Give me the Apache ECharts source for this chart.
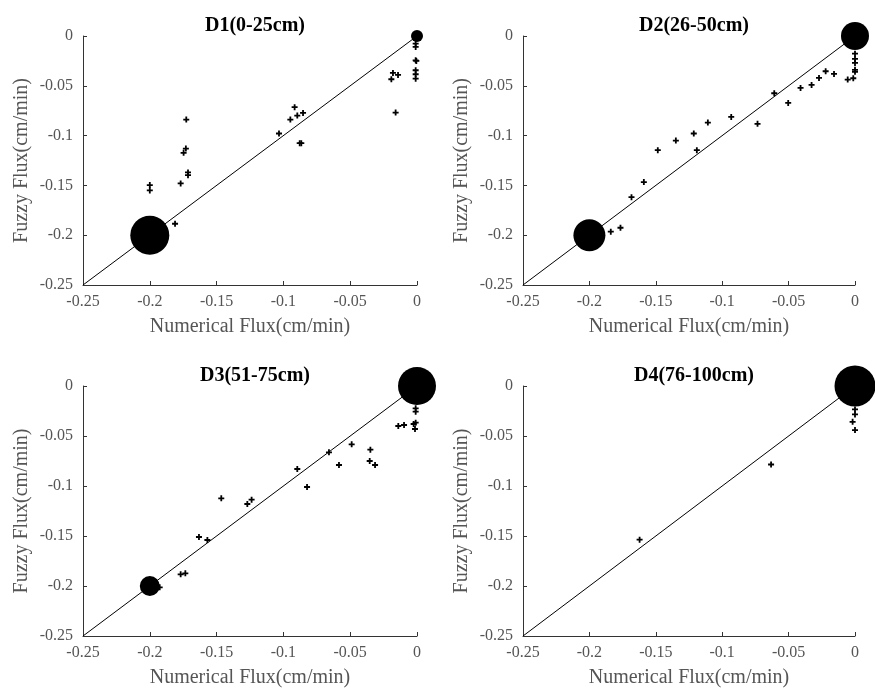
<!DOCTYPE html>
<html>
<head>
<meta charset="utf-8">
<script src="https://cdn.jsdelivr.net/npm/echarts@6/dist/echarts.min.js"></script>
<style>html,body{margin:0;padding:0;background:#fff}#c{width:875px;height:692px}</style>
</head>
<body>
<div id="c"></div>
<script>
// ---- Data ----
const panelTitles = ['D1(0-25cm)', 'D2(26-50cm)', 'D3(51-75cm)', 'D4(76-100cm)'];
const tickValues = [-0.25, -0.2, -0.15, -0.1, -0.05, 0];
const xName = 'Numerical Flux(cm/min)';
const yName = 'Fuzzy Flux(cm/min)';

// D1 small points
const d1Num = [-0.2, -0.2, -0.1727, -0.173, -0.1747, -0.1714, -0.1714, -0.1769, -0.1811, -0.1033, -0.0948, -0.0916, -0.0896, -0.0853, -0.0878, -0.0866, -0.0192, -0.018, -0.0142, -0.016, -0.001, -0.001, -0.001, -0.0005, -0.001, -0.001, -0.001];
const d1Fuzzy = [-0.1497, -0.155, -0.0839, -0.113, -0.1173, -0.137, -0.1397, -0.148, -0.1885, -0.0979, -0.0839, -0.0715, -0.0799, -0.0772, -0.1076, -0.1076, -0.0434, -0.0371, -0.0391, -0.0769, -0.0077, -0.011, -0.0244, -0.025, -0.0344, -0.0384, -0.0428];
// D1 clustered (coincident) points: x, y, count
const d1ClusterNum = [-0.2, 0];
const d1ClusterFuzzy = [-0.2, 0];
const d1ClusterCount = [39, 12];

// D2
const d2Num = [-0.1839, -0.1766, -0.1683, -0.159, -0.1485, -0.1349, -0.1214, -0.1191, -0.1108, -0.0932, -0.0734, -0.0608, -0.0503, -0.041, -0.0327, -0.0271, -0.0221, -0.0158, -0.0055, -0.0013, 0, 0, 0, 0, 0];
const d2Fuzzy = [-0.1965, -0.1925, -0.1618, -0.1467, -0.1146, -0.105, -0.0979, -0.1146, -0.0869, -0.0812, -0.0882, -0.0575, -0.0672, -0.0521, -0.0491, -0.0421, -0.0354, -0.0381, -0.0438, -0.0424, -0.0177, -0.023, -0.027, -0.034, -0.036];
const d2ClusterNum = [-0.2, 0];
const d2ClusterFuzzy = [-0.2, 0];
const d2ClusterCount = [32, 28];

// D3
const d3Num = [-0.1926, -0.1769, -0.1734, -0.1632, -0.1569, -0.1465, -0.127, -0.1238, -0.0896, -0.0823, -0.0659, -0.0584, -0.0489, -0.0349, -0.0354, -0.0314, -0.014, -0.0097, -0.0025, -0.001, -0.0015, -0.001, -0.001];
const d3Fuzzy = [-0.2013, -0.1883, -0.1873, -0.151, -0.154, -0.1123, -0.118, -0.1137, -0.083, -0.101, -0.0663, -0.079, -0.0583, -0.0637, -0.075, -0.079, -0.04, -0.039, -0.038, -0.0367, -0.043, -0.0257, -0.0223];
const d3ClusterNum = [-0.2, 0];
const d3ClusterFuzzy = [-0.2, 0];
const d3ClusterCount = [20, 38];

// D4
const d4Num = [-0.1622, -0.0632, -0.0018, 0, 0, 0];
const d4Fuzzy = [-0.1537, -0.0785, -0.0358, -0.0441, -0.0284, -0.0234];
const d4ClusterNum = [0];
const d4ClusterFuzzy = [0];
const d4ClusterCount = [41];

// 1:1 reference line
const refLine = [-0.25, 0];

// ---- Build ----
const panels = [
  [d1Num, d1Fuzzy, d1ClusterNum, d1ClusterFuzzy, d1ClusterCount],
  [d2Num, d2Fuzzy, d2ClusterNum, d2ClusterFuzzy, d2ClusterCount],
  [d3Num, d3Fuzzy, d3ClusterNum, d3ClusterFuzzy, d3ClusterCount],
  [d4Num, d4Fuzzy, d4ClusterNum, d4ClusterFuzzy, d4ClusterCount]
];
const gridPos = [
  {left: 83, top: 36, width: 334, height: 249},
  {left: 523, top: 36, width: 332, height: 249},
  {left: 83, top: 386, width: 334, height: 250},
  {left: 523, top: 386, width: 332, height: 250}
];
const FONT = '"Liberation Serif", "Times New Roman", serif';
const plusPath = 'path://M3.5,0 H6.5 V3.5 H10 V6.5 H6.5 V10 H3.5 V6.5 H0 V3.5 H3.5 Z';

const option = {
  backgroundColor: '#fff',
  animation: false,
  title: [], grid: [], xAxis: [], yAxis: [], series: []
};
panels.forEach((p, i) => {
  const g = gridPos[i];
  option.grid.push(Object.assign({containLabel: false}, g));
  option.title.push({
    text: panelTitles[i], left: g.left + g.width / 2, top: g.top - 25, textAlign: 'center',
    textStyle: {fontFamily: FONT, fontWeight: 'bold', fontSize: 20, color: '#000'}
  });
  const axisCommon = {
    type: 'value', min: tickValues[0], max: tickValues[tickValues.length - 1], interval: 0.05,
    gridIndex: i, nameLocation: 'middle',
    nameTextStyle: {fontFamily: FONT, fontSize: 20, color: '#555'},
    axisLine: {show: true, onZero: false, lineStyle: {color: '#333', width: 1}},
    axisTick: {show: true, inside: true, length: 4, lineStyle: {color: '#333'}},
    axisLabel: {fontFamily: FONT, fontSize: 16, color: '#555', margin: 9,
      formatter: v => String(Math.round(v * 100) / 100)},
    splitLine: {show: false}
  };
  option.xAxis.push(Object.assign({}, axisCommon, {name: xName, nameGap: 32, position: 'bottom'}));
  option.yAxis.push(Object.assign({}, axisCommon, {name: yName, nameGap: 51, position: 'left',
    axisLabel: Object.assign({}, axisCommon.axisLabel, {margin: 10})}));
  option.series.push({
    type: 'line', xAxisIndex: i, yAxisIndex: i, symbol: 'none', silent: true,
    data: [[refLine[0], refLine[0]], [refLine[1], refLine[1]]],
    lineStyle: {color: '#000', width: 1}, z: 1
  });
  option.series.push({
    type: 'scatter', xAxisIndex: i, yAxisIndex: i, symbol: plusPath, symbolSize: 6,
    itemStyle: {color: '#000', opacity: 1},
    data: p[0].map((x, k) => [x, p[1][k]]), z: 3
  });
  option.series.push({
    type: 'scatter', xAxisIndex: i, yAxisIndex: i, symbol: 'circle',
    symbolSize: d => d[2],
    itemStyle: {color: '#000', opacity: 1},
    data: p[2].map((x, k) => [x, p[3][k], p[4][k]]), z: 4
  });
});

const chart = echarts.init(document.getElementById('c'), null, {renderer: 'canvas'});
chart.setOption(option);
</script>
</body>
</html>
